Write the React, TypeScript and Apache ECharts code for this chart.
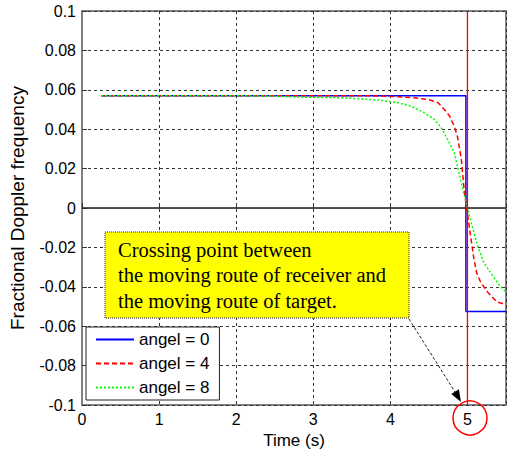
import React, { useEffect, useRef } from "react";
import * as echarts from "echarts";

// ---- data ----
const blueT = [0.25, 4.98, 4.98, 5.5];
const blueV = [0.057, 0.057, -0.0525, -0.0525];

const redT = [0.25, 3.5, 3.85, 4.1, 4.3, 4.5, 4.62, 4.7, 4.77, 4.83, 4.87, 4.92, 4.96, 4.99, 5.04, 5.085, 5.12, 5.17, 5.26, 5.38, 5.5];
const redV = [0.057, 0.057, 0.0569, 0.0565, 0.056, 0.055, 0.0535, 0.05, 0.0466, 0.0414, 0.0364, 0.025, 0.008, 0.0, -0.014, -0.026, -0.033, -0.0375, -0.0426, -0.0476, -0.049];

const greenT = [0.25, 2.0, 2.5, 2.82, 3.33, 3.6, 3.85, 4.1, 4.27, 4.44, 4.57, 4.66, 4.74, 4.83, 4.89, 4.95, 5.0, 5.06, 5.13, 5.21, 5.32, 5.43, 5.5];
const greenV = [0.057, 0.057, 0.0568, 0.0563, 0.056, 0.0555, 0.0548, 0.0534, 0.0517, 0.0483, 0.045, 0.0408, 0.035, 0.028, 0.018, 0.008, 0.0, -0.009, -0.019, -0.0275, -0.034, -0.04, -0.0426];

const seriesNames = ["angel = 0", "angel = 4", "angel = 8"];
const xTicks = [0, 1, 2, 3, 4, 5];
const crossingTime = 5;
const crossingSpan = [-0.1, 0.1];
const zeroLineT = [0, 5.5];
const annotationLines = [
  "Crossing point between",
  "the moving route of receiver and",
  "the moving route of target.",
];

const zip = (t: number[], v: number[]) => t.map((x, i) => [x, v[i]]);

export default function App() {
  const ref = useRef<HTMLDivElement>(null);
  useEffect(() => {
    if (!ref.current) return;
    const chart = echarts.init(ref.current, null, { renderer: "svg" });
    const sans = "Liberation Sans, Arial, sans-serif";
    const axisGray = "#808080";
    const fmtY = (v: number) => String(Number(v.toFixed(2)));
    chart.setOption({
      animation: false,
      backgroundColor: "#ffffff",
      grid: {
        left: 80,
        right: -0.55,
        top: 11,
        bottom: 47,
        show: true,
        borderColor: axisGray,
        borderWidth: 2,
        backgroundColor: "transparent",
      },
      xAxis: {
        type: "value",
        min: 0,
        max: 5.5,
        interval: 1,
        name: "Time (s)",
        nameLocation: "middle",
        nameGap: 24,
        nameTextStyle: { fontFamily: sans, fontSize: 17, color: "#000" },
        axisLine: { show: true, lineStyle: { color: axisGray, width: 2 } },
        axisTick: { show: true, inside: true, length: 5, lineStyle: { color: "#333" } },
        axisLabel: {
          fontFamily: sans,
          fontSize: 16,
          color: "#000",
          margin: 6,
          formatter: (v: number) => (xTicks.includes(Math.round(v * 100) / 100) ? String(v) : ""),
        },
        splitLine: { show: true, lineStyle: { color: "#333", type: [3, 3], width: 1 } },
      },
      yAxis: {
        type: "value",
        min: -0.1,
        max: 0.1,
        interval: 0.02,
        name: "Fractional Doppler frequency",
        nameLocation: "middle",
        nameGap: 55,
        nameTextStyle: { fontFamily: sans, fontSize: 19, color: "#000" },
        axisLine: { show: true, lineStyle: { color: axisGray, width: 2 } },
        axisTick: { show: true, inside: true, length: 5, lineStyle: { color: "#333" } },
        axisLabel: { fontFamily: sans, fontSize: 16, color: "#000", margin: 6, formatter: fmtY },
        splitLine: { show: true, lineStyle: { color: "#333", type: [3, 3], width: 1 } },
      },
      legend: {
        orient: "vertical",
        left: 86,
        top: 327,
        itemWidth: 38,
        itemHeight: 14,
        itemGap: 7,
        padding: [4, 10, 4, 9],
        backgroundColor: "#fff",
        borderColor: "#222",
        borderWidth: 1,
        borderRadius: 0,
        itemStyle: { opacity: 0 },
        textStyle: { fontFamily: sans, fontSize: 17, color: "#000" },
        data: seriesNames,
      },
      series: [
        {
          name: "zero",
          type: "line",
          data: zip(zeroLineT, [0, 0]),
          showSymbol: false,
          symbol: "none",
          silent: true,
          lineStyle: { color: "#222", width: 1, type: "solid" },
          z: 2,
        },
        {
          name: "crossing",
          type: "line",
          data: zip([crossingTime, crossingTime], crossingSpan),
          showSymbol: false,
          symbol: "none",
          silent: true,
          lineStyle: { color: "#ff0000", width: 1.3, type: "solid" },
          z: 6,
        },
        {
          name: seriesNames[0],
          type: "line",
          data: zip(blueT, blueV),
          showSymbol: false,
          symbol: "none",
          lineStyle: { color: "#0000ff", width: 1.5, type: "solid" },
          itemStyle: { color: "#0000ff" },
          z: 3,
        },
        {
          name: seriesNames[1],
          type: "line",
          data: zip(redT, redV),
          showSymbol: false,
          symbol: "none",
          lineStyle: { color: "#ff0000", width: 1.5, type: [5, 3] },
          itemStyle: { color: "#ff0000" },
          z: 4,
        },
        {
          name: seriesNames[2],
          type: "line",
          data: zip(greenT, greenV),
          showSymbol: false,
          symbol: "none",
          lineStyle: { color: "#00ff00", width: 1.5, type: [2, 2] },
          itemStyle: { color: "#00ff00" },
          z: 5,
        },
      ],
      graphic: [
        {
          type: "rect",
          shape: { x: 105, y: 232, width: 304, height: 86 },
          style: { fill: "#ffff00", stroke: "#222", lineWidth: 1, lineDash: [1, 1] },
          z: 100,
        },
        {
          type: "text",
          x: 118,
          y: 237,
          style: {
            text: annotationLines.join("\n"),
            fontFamily: "Liberation Serif, Times New Roman, serif",
            fontSize: 20.5,
            lineHeight: 25.5,
            fill: "#000",
          },
          z: 101,
        },
        {
          type: "line",
          shape: { x1: 409, y1: 319, x2: 455, y2: 392 },
          style: { stroke: "#222", lineWidth: 1, lineDash: [3, 2] },
          z: 100,
        },
        {
          type: "polygon",
          shape: { points: [[461, 402], [451.3, 394.1], [458.9, 389.3]] },
          style: { fill: "#000" },
          z: 100,
        },
        {
          type: "circle",
          shape: { cx: 470, cy: 418, r: 17 },
          style: { fill: "none", stroke: "#ff0000", lineWidth: 1.5 },
          z: 100,
        },
      ],
    });
    return () => chart.dispose();
  }, []);
  return (
    <div
      ref={ref}
      style={{ position: "absolute", left: 0, top: 0, width: 509, height: 454 }}
    />
  );
}
